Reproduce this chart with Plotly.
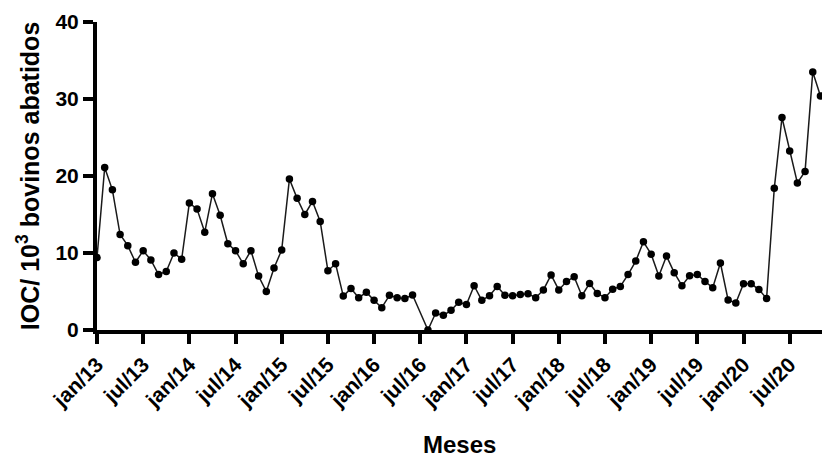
import plotly.graph_objects as go

# Monthly IOC per 1000 slaughtered cattle, jan/2013 - nov/2020 (jul/16 not reported)
months = [f"{m}/{y}" for y in range(13, 21)
          for m in ["jan", "fev", "mar", "abr", "mai", "jun",
                    "jul", "ago", "set", "out", "nov", "dez"]][:95]

ioc_2013 = [9.4, 21.1, 18.2, 12.4, 10.95, 8.8, 10.3, 9.1, 7.2, 7.6, 10.0, 9.2]
ioc_2014 = [16.5, 15.7, 12.7, 17.7, 14.9, 11.2, 10.3, 8.6, 10.3, 7.0, 5.0, 8.05]
ioc_2015 = [10.4, 19.6, 17.1, 15.0, 16.7, 14.1, 7.7, 8.6, 4.4, 5.4, 4.2, 4.9]
ioc_2016 = [3.85, 2.9, 4.5, 4.2, 4.1, 4.55, None, 0.0, 2.2, 1.9, 2.55, 3.6]
ioc_2017 = [3.3, 5.75, 3.85, 4.45, 5.65, 4.5, 4.45, 4.6, 4.7, 4.2, 5.2, 7.15]
ioc_2018 = [5.2, 6.3, 6.9, 4.45, 6.05, 4.75, 4.2, 5.3, 5.65, 7.2, 8.95, 11.45]
ioc_2019 = [9.85, 7.0, 9.6, 7.45, 5.75, 7.05, 7.2, 6.3, 5.5, 8.7, 3.9, 3.5]
ioc_2020 = [6.0, 6.0, 5.25, 4.1, 18.4, 27.6, 23.25, 19.1, 20.6, 33.5, 30.4]

ioc = ioc_2013 + ioc_2014 + ioc_2015 + ioc_2016 + ioc_2017 + ioc_2018 + ioc_2019 + ioc_2020
month_index = list(range(len(ioc)))

tick_labels = ["jan/13", "jul/13", "jan/14", "jul/14", "jan/15", "jul/15",
               "jan/16", "jul/16", "jan/17", "jul/17", "jan/18", "jul/18",
               "jan/19", "jul/19", "jan/20", "jul/20"]
tick_positions = [months.index(t) for t in tick_labels]

y_ticks = [0, 10, 20, 30, 40]

FONT = "Liberation Sans, Arial, Helvetica, sans-serif"

fig = go.Figure()
fig.add_trace(go.Scatter(
    x=month_index, y=ioc, mode="lines+markers", connectgaps=True,
    line=dict(color="#1a1a1a", width=1.5),
    marker=dict(color="black", size=7.5),
    cliponaxis=False, showlegend=False,
))

axis_common = dict(
    showline=True, linecolor="black", linewidth=4,
    ticks="outside", ticklen=10, tickwidth=4, tickcolor="black",
    showgrid=False, zeroline=False,
    tickfont=dict(family=FONT, size=21, color="black", weight="bold"),
)

fig.update_xaxes(
    range=[0, 94.2], tickmode="array",
    tickvals=tick_positions, ticktext=tick_labels, tickangle=-45,
    **axis_common,
)
fig.update_yaxes(
    range=[0, 40], tickmode="array", tickvals=y_ticks,
    **axis_common,
)

fig.add_annotation(
    text="IOC/ 10<sup>3</sup> bovinos abatidos", textangle=-90,
    xref="paper", yref="paper", x=-0.095, y=0.5,
    xanchor="center", yanchor="middle", showarrow=False,
    font=dict(family=FONT, size=25, color="black", weight="bold"),
)
fig.add_annotation(
    text="Meses", xref="paper", yref="paper", x=0.5, y=-0.373,
    xanchor="center", yanchor="middle", showarrow=False,
    font=dict(family=FONT, size=24, color="black", weight="bold"),
)

fig.update_layout(
    width=822, height=457,
    margin=dict(l=97, r=0, t=22, b=127),
    plot_bgcolor="white", paper_bgcolor="white",
)

fig.write_html("out.html")
